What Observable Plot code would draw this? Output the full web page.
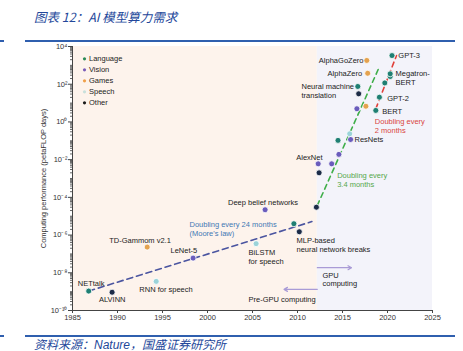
<!DOCTYPE html>
<html><head><meta charset="utf-8">
<script src="https://cdn.jsdelivr.net/npm/d3@7"></script>
<script src="https://cdn.jsdelivr.net/npm/@observablehq/plot@0.6"></script>
<style>
html,body{margin:0;padding:0;background:#fff}
body{width:463px;height:351px;overflow:hidden;position:relative;font-family:"Liberation Sans",Arial,sans-serif}
#chart{position:absolute;left:0;top:0}
#title{position:absolute;left:34px;top:7px;font-family:"Noto Sans CJK SC";font-style:italic;font-size:12.5px;color:#23479a;white-space:nowrap}
#source{position:absolute;left:34px;top:336px;font-family:"Noto Sans CJK SC";font-style:italic;font-size:12px;color:#23479a;white-space:nowrap;line-height:16px}
#source i{font-family:"Liberation Sans",Arial,sans-serif}
.rule{position:absolute;height:2px;background:#2f5fae}
</style>
</head><body>
<div id="title">图表 12：AI 模型算力需求</div>
<div class="rule" style="left:0;width:4px;top:40px"></div>
<div class="rule" style="left:25px;width:430px;top:40px"></div>
<div id="chart"></div>
<div class="rule" style="left:0;width:4px;top:335px"></div>
<div class="rule" style="left:25px;width:430px;top:335px"></div>
<div id="source">资料来源：<i>Nature</i>，国盛证券研究所</div>
<script>
// ---- data ----
const categories = ["Language","Vision","Games","Speech","Other"];
const categoryColors = ["#1f7f73","#6a5cbc","#e4a24f","#9bd3d9","#1c2b47"];
const legendColors = ["#2a8a55","#7a5cb8","#f0a04a","#c8e0dc","#1a1a1a"];

const modelNames = ["NETtalk","","Neural machine translation","","BERT","GPT-2","","","Megatron-BERT","GPT-3",
  "LeNet-5","Deep belief networks","AlexNet","","","ResNets","",
  "TD-Gammom v2.1","AlphaGo","AlphaZero","AlphaGoZero",
  "RNN for speech","BiLSTM","",
  "ALVINN","MLP-based","","",""];
const modelYears = [1986.8,2009.6,2016.7,2014.5,2018.7,2019.1,2019.7,2020.3,2020.3,2020.5,
  1998.4,2006.4,2012.3,2013.8,2014.6,2015.9,2016.6,
  1993.3,2017.6,2017.8,2017.7,
  1994.3,2005.4,2015.8,
  1989.4,2010.2,2012.1,2012.4,2016.8];
const modelCompute = [1.07e-9,4.0e-6,76,0.105,4.07,20.4,117,257,355,3311,
  6.0e-8,2.2e-5,6.0e-3,6.0e-3,1.9e-2,0.117,5.0,
  2.3e-7,6.8,380,1820,
  3.5e-9,3.5e-7,0.234,
  9.3e-10,1.5e-6,3.0e-5,2.0e-3,31];
const modelCategory = ["Language","Language","Language","Language","Language","Language","Language","Language","Language","Language",
  "Vision","Vision","Vision","Vision","Vision","Vision","Vision",
  "Games","Games","Games","Games",
  "Speech","Speech","Speech",
  "Other","Other","Other","Other","Other"];

const mooreYears = [1986.8, 2011.6], mooreCompute = [1.07e-9, 5.2e-6];
const modernYears = [2012.2, 2019.0], modernCompute = [3.7e-5, 660];
const recentYears = [2018.7, 2021.0], recentCompute = [5.0, 3300];

const gpuYear = 2012.2;
const xTicks = [1985,1990,1995,2000,2005,2010,2015,2020,2025];
const yTicks = [1e-10,1e-8,1e-6,1e-4,1e-2,1,1e2,1e4];

const labelText = ["NETtalk","ALVINN","TD-Gammom v2.1","RNN for speech","LeNet-5","Deep belief networks",
  "BiLSTM\nfor speech","MLP-based\nneural network breaks","AlexNet","ResNets","Neural machine\ntranslation",
  "AlphaGoZero","AlphaZero","GPT-3","Megatron-\nBERT","GPT-2","BERT","GPU\ncomputing","Pre-GPU computing"];
const labelYear = [1987.06,1989.41,1992.5,1995.39,1997.37,2006.17,
  2004.56,2009.89,2012.78,2016.33,2010.44,
  2017.33,2017.19,2021.2,2020.9,2019.97,2019.41,2012.78,2004.56];
const labelCompute = [2.8e-9,3.9e-10,5.6e-7,1.4e-9,1.5e-7,5.4e-5,
  7.1e-8,3.1e-7,1.3e-2,0.117,44,
  1820,380,3311,214,17.4,3.7,4.6e-9,3.9e-10];
const labelAnchor = ["middle","middle","middle","middle","middle","middle",
  "start","start","end","start","start",
  "end","end","start","start","start","start","start","start"];

const noteText = ["Doubling every 24 months\n(Moore's law)","Doubling every\n3.4 months","Doubling every\n2 months"];
const noteYear = [1998.0, 2014.41, 2018.59];
const noteCompute = [2.24e-6, 8.7e-4, 0.65];
const noteColors = ["#3f78b4","#55a84a","#d9453e"];

const arrowFrom = [2012.2, 2012.2], arrowTo = [2016.0, 2008.5], arrowCompute = [1.86e-8, 1.32e-9];

// ---- build ----
const models = modelYears.map((y,i)=>({name:modelNames[i],year:y,compute:modelCompute[i],cat:modelCategory[i]}));
const line = (ys,cs)=>ys.map((y,i)=>({year:y,compute:cs[i]}));
const labels = labelText.map((t,i)=>({t,year:labelYear[i],compute:labelCompute[i],a:labelAnchor[i]}));
const notes = noteText.map((t,i)=>({t,year:noteYear[i],compute:noteCompute[i],c:noteColors[i]}));
const arrows = arrowFrom.map((x,i)=>({x1:x,x2:arrowTo[i],y:arrowCompute[i]}));
const minor = [];
for (let e=-10;e<4;e++) for (let m=1;m<10;m++) if (!(m===1 && e%2===0)) minor.push(m*Math.pow(10,e));
const supMap = {"-":"⁻","0":"⁰","1":"¹","2":"²","3":"³","4":"⁴","5":"⁵","6":"⁶","7":"⁷","8":"⁸","9":"⁹"};
const fmt = d => "10" + String(Math.round(Math.log10(d))).split("").map(c=>supMap[c]).join("");
const colorOf = c => categoryColors[categories.indexOf(c)];

const FS = 7.5;
const labelMarks = ["start","middle","end"].map(a =>
  Plot.text(labels.filter(d => d.a === a), {x:"year", y:"compute", text:"t", textAnchor:a, fill:"#222", fontSize:FS, lineHeight:1.18}));

const chart = Plot.plot({
  width: 463, height: 351,
  marginLeft: 72, marginRight: 31, marginTop: 46, marginBottom: 41,
  style: {fontFamily: '"Liberation Sans", Arial, sans-serif', fontSize: FS+"px", background: "transparent"},
  x: {domain: [1985, 2025]},
  y: {type: "log", domain: [1e-10, 1e4]},
  marks: [
    Plot.rect([{a:1985,b:gpuYear},{a:gpuYear,b:2025}], {x1:"a", x2:"b", y1:1e-10, y2:1e4, fill:(d,i)=>i===0?"#fdf3ec":"#f3f3fa"}),
    Plot.axisY({ticks: minor, tickSize: 2, tickFormat: () => "", stroke: "#666", label: null}),
    Plot.axisY({ticks: yTicks, tickSize: 4, tickPadding: 1, tickFormat: fmt, stroke: "#444", fill: "#333", fontSize: FS, label: null}),
    Plot.axisX({ticks: xTicks, tickSize: 3, tickPadding: 1, tickFormat: d => String(d), stroke: "#444", fill: "#333", fontSize: FS, label: null}),
    Plot.ruleX([1985], {stroke: "#444", strokeWidth: 1}),
    Plot.ruleY([1e-10], {stroke: "#444", strokeWidth: 1}),
    Plot.text(["Computing performance (petaFLOP days)"], {frameAnchor: "left", textAnchor: "middle", lineAnchor: "middle", rotate: -90, dx: -29, fill: "#333", fontSize: FS}),
    Plot.line(line(mooreYears, mooreCompute), {x:"year", y:"compute", stroke:"#4b55a0", strokeWidth:1.6, strokeDasharray:"6,4"}),
    Plot.line(line(modernYears, modernCompute), {x:"year", y:"compute", stroke:"#3fae49", strokeWidth:1.6, strokeDasharray:"5,4"}),
    Plot.line(line(recentYears, recentCompute), {x:"year", y:"compute", stroke:"#e0403a", strokeWidth:1.6, strokeDasharray:"5,4"}),
    Plot.arrow(arrows, {x1:"x1", x2:"x2", y1:"y", y2:"y", stroke:"#a99bd6", strokeWidth:1.2, headLength:5, bend:0}),
    Plot.dot(models, {x:"year", y:"compute", r:3, fill: d => colorOf(d.cat), stroke:"#ffffff", strokeWidth:0.8}),
    ...labelMarks,
    Plot.text(notes, {x:"year", y:"compute", text:"t", textAnchor:"start", fill: d => d.c, fontSize: FS, lineHeight:1.15}),
    ...categories.map((c,i) => Plot.dot([c], {frameAnchor:"top-left", dx:12, dy:12.3+11*i, r:1.6, fill: legendColors[i]})),
    ...categories.map((c,i) => Plot.text([c], {frameAnchor:"top-left", dx:16.5, dy:12.3+11*i, textAnchor:"start", lineAnchor:"middle", fill:"#222", fontSize: FS}))
  ]
});
document.getElementById("chart").appendChild(chart);
</script>
</body></html>
